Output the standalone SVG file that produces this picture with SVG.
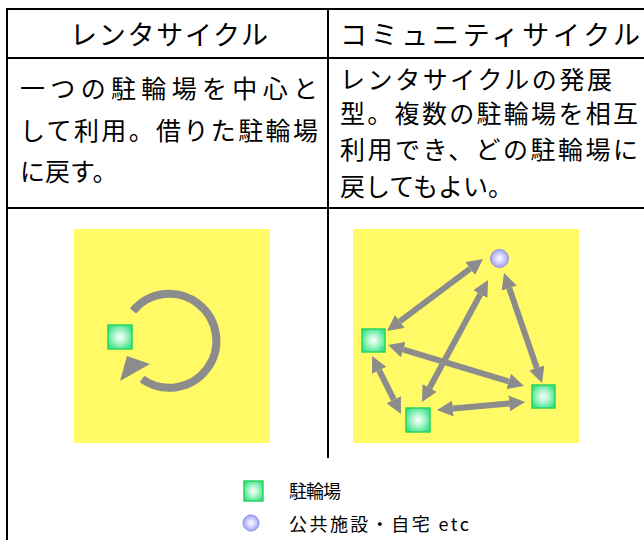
<svg xmlns="http://www.w3.org/2000/svg" width="644" height="540" viewBox="0 0 644 540">
<style>
.t{font-family:"Noto Sans CJK JP","Noto Sans CJK SC",sans-serif;fill:#000;}
.h{font-size:27px;}
.b{font-size:25px;}
.l{font-size:18px;}
.ln{stroke:#000;stroke-width:2;fill:none;}
.yb{fill:#FFFA66;}
.arr{stroke:#8C8C8C;stroke-width:6;fill:none;marker-start:url(#ah);marker-end:url(#ah);}
.sq{fill:url(#gg);stroke:#2BD35E;stroke-width:1.5;}
.ci{fill:url(#pg);stroke:#8F8FEF;stroke-width:1;}
</style>
<defs>
<radialGradient id="gg" cx="0.5" cy="0.5" r="0.6">
<stop offset="0" stop-color="#FFFFFF"/>
<stop offset="0.45" stop-color="#A8F5C8"/>
<stop offset="1" stop-color="#33E08A"/>
</radialGradient>
<radialGradient id="pg" cx="0.5" cy="0.5" r="0.6">
<stop offset="0" stop-color="#FFFFFF"/>
<stop offset="0.5" stop-color="#C8C8FF"/>
<stop offset="1" stop-color="#9090F0"/>
</radialGradient>
<marker id="ah" markerUnits="userSpaceOnUse" markerWidth="17" markerHeight="16" refX="0" refY="8" orient="auto-start-reverse" viewBox="0 0 17 16">
<path d="M0,0 L16,8 L0,16 z" fill="#8C8C8C"/>
</marker>
</defs>

<g id="table">
<line class="ln" x1="7" y1="9" x2="644" y2="9"/>
<line class="ln" x1="7" y1="58" x2="644" y2="58"/>
<line class="ln" x1="7" y1="208" x2="644" y2="208"/>
<line class="ln" x1="7" y1="8" x2="7" y2="540"/>
<line class="ln" x1="328" y1="8" x2="328" y2="458"/>
</g>

<g id="header-left"><text class="t h" x="70" y="45" textLength="198" lengthAdjust="spacing">レンタサイクル</text></g>
<g id="header-right"><text class="t h" x="340" y="45" textLength="300" lengthAdjust="spacing">コミュニティサイクル</text></g>

<g id="desc-left">
<text class="t b" x="20" y="98" textLength="298" lengthAdjust="spacing">一つの駐輪場を中心と</text>
<text class="t b" x="20" y="140" textLength="298" lengthAdjust="spacing">して利用。借りた駐輪場</text>
<text class="t b" x="20" y="181">に戻す。</text>
</g>
<g id="desc-right">
<text class="t b" x="340" y="89" textLength="272" lengthAdjust="spacing">レンタサイクルの発展</text>
<text class="t b" x="340" y="123" textLength="298" lengthAdjust="spacing">型。複数の駐輪場を相互</text>
<text class="t b" x="340" y="159" textLength="298" lengthAdjust="spacing">利用でき、どの駐輪場に</text>
<text class="t b" x="340" y="196">戻してもよい。</text>
</g>

<g id="rental-diagram">
<rect class="yb" x="74" y="229" width="196" height="214"/>
<path d="M133,311 A47,47 0 1 1 142,379" stroke="#8C8C8C" stroke-width="8" fill="none"/>
<polygon points="120,381 127,356 150,364" fill="#8C8C8C"/>
<rect class="sq" x="108" y="325" width="24" height="24"/>
</g>

<g id="community-diagram">
<rect class="yb" x="353" y="229" width="226" height="214"/>
<g id="connectors">
<line class="arr" x1="470.2" y1="268.6" x2="399.8" y2="321.4"/>
<line class="arr" x1="480.4" y1="294.1" x2="429.6" y2="387.9"/>
<line class="arr" x1="509.2" y1="288.1" x2="536.8" y2="367.9"/>
<line class="arr" x1="403.3" y1="349.6" x2="508.7" y2="381.4"/>
<line class="arr" x1="379.2" y1="370.3" x2="393.8" y2="399.7"/>
<line class="arr" x1="452.9" y1="408.6" x2="509.1" y2="403.4"/>
</g>
<g id="node-home"><circle class="ci" cx="499.5" cy="258.5" r="9"/></g>
<g id="node-a"><rect class="sq" x="362" y="329" width="23" height="23"/></g>
<g id="node-b"><rect class="sq" x="406" y="408" width="24" height="24"/></g>
<g id="node-c"><rect class="sq" x="532" y="385" width="23" height="23"/></g>
</g>

<g id="legend">
<rect class="sq" x="244" y="481" width="19" height="20"/>
<text class="t l" x="289" y="498" textLength="52" lengthAdjust="spacing">駐輪場</text>
<circle class="ci" cx="251" cy="523" r="8"/>
<text class="t l" x="289" y="531" textLength="180" lengthAdjust="spacing">公共施設・自宅 etc</text>
</g>
</svg>
